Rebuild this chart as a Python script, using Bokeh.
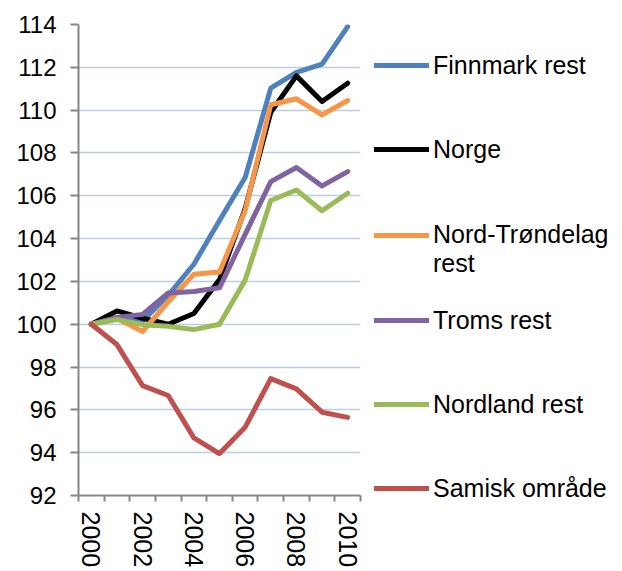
import math
from bokeh.plotting import figure
from bokeh.models import FixedTicker, Legend, LegendItem, Range1d
from bokeh.embed import file_html
from bokeh.resources import INLINE

years = [2000, 2001, 2002, 2003, 2004, 2005, 2006, 2007, 2008, 2009, 2010]
finnmark = [100, 100.3, 100.15, 101.35, 102.8, 104.85, 106.85, 111.03, 111.76, 112.15, 113.9]
norge = [100, 100.62, 100.28, 100.0, 100.5, 102.09, 105.4, 109.9, 111.6, 110.4, 111.26]
nord_trondelag = [100, 100.27, 99.66, 101.05, 102.33, 102.44, 105.3, 110.25, 110.53, 109.78, 110.45]
troms = [100, 100.32, 100.46, 101.46, 101.53, 101.7, 104.2, 106.66, 107.32, 106.46, 107.13]
nordland = [100, 100.22, 99.98, 99.9, 99.75, 100.0, 102.06, 105.78, 106.27, 105.3, 106.12]
samisk = [100, 99.05, 97.13, 96.67, 94.69, 93.96, 95.19, 97.46, 96.98, 95.89, 95.65]

# leading blank line keeps the legend line level with the first text line
series = [
    ("Finnmark rest", finnmark, "#4f81bd"),
    ("Norge", norge, "#000000"),
    (" \nNord-Trøndelag\nrest", nord_trondelag, "#f79646"),
    ("Troms rest", troms, "#8064a2"),
    ("Nordland rest", nordland, "#9bbb59"),
    ("Samisk område", samisk, "#c0504d"),
]

y_ticks = list(range(92, 115, 2))
x_label_years = [2000, 2002, 2004, 2006, 2008, 2010]
x_bounds = [y - 0.5 for y in years] + [years[-1] + 0.5]

FONT = "Liberation Sans"

p = figure(frame_width=282, frame_height=471, output_backend="svg", toolbar_location=None,
           x_range=Range1d(years[0] - 0.5, years[-1] + 0.5),
           y_range=Range1d(92, 114),
           min_border_left=78, min_border_right=258, min_border_top=24, min_border_bottom=10)
p.outline_line_color = None
p.background_fill_color = "white"
p.border_fill_color = "white"

p.xgrid.grid_line_color = None
p.ygrid.grid_line_color = "#b9cde5"
p.ygrid.grid_line_width = 1.5
p.ygrid.ticker = FixedTicker(ticks=y_ticks)

p.yaxis.ticker = FixedTicker(ticks=y_ticks)
p.yaxis.axis_line_color = "#868686"
p.yaxis.axis_line_width = 2
p.yaxis.major_tick_line_color = "#868686"
p.yaxis.major_tick_line_width = 2
p.yaxis.major_tick_out = 8
p.yaxis.major_tick_in = 0
p.yaxis.minor_tick_line_color = None
p.yaxis.major_label_standoff = 14
p.yaxis.major_label_text_font = FONT
p.yaxis.major_label_text_font_size = "24px"
p.yaxis.major_label_text_color = "black"

p.xaxis.ticker = FixedTicker(ticks=x_label_years, minor_ticks=x_bounds)
p.xaxis.axis_line_color = "#868686"
p.xaxis.axis_line_width = 2
p.xaxis.major_tick_line_color = None
p.xaxis.major_tick_out = 0
p.xaxis.major_tick_in = 0
p.xaxis.minor_tick_line_color = "#868686"
p.xaxis.minor_tick_line_width = 2
p.xaxis.minor_tick_out = 6
p.xaxis.minor_tick_in = 0
p.xaxis.major_label_orientation = -math.pi / 2
p.xaxis.major_label_standoff = 10
p.xaxis.major_label_text_font = FONT
p.xaxis.major_label_text_font_size = "25px"
p.xaxis.major_label_text_color = "black"

items = []
for name, vals, color in series:
    r = p.line(years, vals, line_color=color, line_width=5, line_join="round", line_cap="round")
    items.append(LegendItem(label=name, renderers=[r]))

legend = Legend(items=items, location=(14, -35))
legend.border_line_color = None
legend.background_fill_alpha = 0
legend.padding = 0
legend.margin = 0
legend.glyph_width = 55
legend.glyph_height = 84
legend.label_height = 84
legend.spacing = 0
legend.label_standoff = 4
legend.label_text_font = FONT
legend.label_text_font_size = "25px"
legend.label_text_line_height = 1.1
legend.label_text_color = "black"
p.add_layout(legend, "right")

open("out.html", "w").write(file_html(p, INLINE))
